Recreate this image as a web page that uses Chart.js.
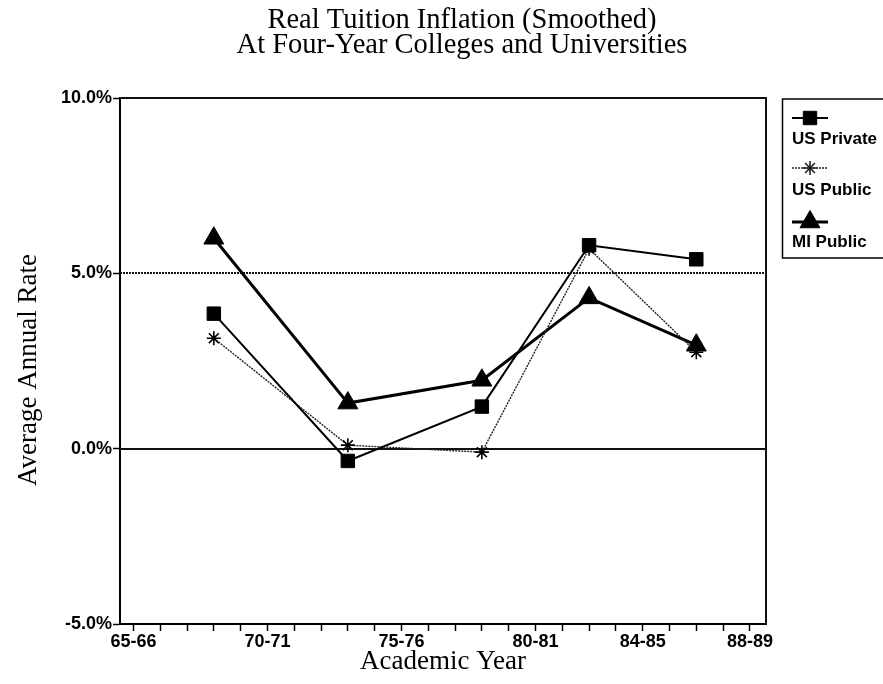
<!DOCTYPE html>
<html>
<head>
<meta charset="utf-8">
<script src="https://cdn.jsdelivr.net/npm/chart.js@4.4.0/dist/chart.umd.min.js"></script>
<style>
  html, body { margin: 0; padding: 0; background: #fff; }
  #wrap { width: 883px; height: 684px; }
</style>
</head>
<body>
<div id="wrap"><canvas id="myChart" width="883" height="684"></canvas></div>
<script>
// start year of each academic year, e.g. 68 = 68-69
const years = [68, 73, 78, 82, 86]
const usPrivate = [3.85, -0.35, 1.2, 5.8, 5.4]
const usPublic = [3.15, 0.1, -0.1, 5.7, 2.75]
const miPublic = [6.0, 1.3, 1.95, 4.3, 2.95]

const seriesNames = ['US Private', 'US Public', 'MI Public']
const yearTicks = [65, 66, 67, 68, 69, 70, 71, 72, 73, 74, 75, 76, 77, 78, 79, 80, 81, 82, 83, 84, 85, 86, 87, 88]
const yearLabels = { 65: '65-66', 70: '70-71', 75: '75-76', 80: '80-81', 84: '84-85', 88: '88-89' }
const rateTicks = [-5, 0, 5, 10]
const titleLines = ['Real Tuition Inflation (Smoothed)', 'At Four-Year Colleges and Universities']
const xTitle = 'Academic Year'
const yTitle = 'Average Annual Rate'

function toPoints(values) {
  return values.map((v, i) => ({ x: years[i], y: v }))
}

const serif = '"Liberation Serif", "Times New Roman", serif'
const sans = '"Liberation Sans", Arial, sans-serif'

// reference lines, frame, titles and the legend box
const decorations = {
  id: 'decorations',
  beforeDatasetsDraw(chart) {
    const { ctx, chartArea: a, scales } = chart
    const y = scales.y
    ctx.save()
    ctx.strokeStyle = '#111'
    ctx.lineWidth = 2
    ctx.setLineDash([2, 1])
    let py = Math.round(y.getPixelForValue(5))
    ctx.beginPath()
    ctx.moveTo(a.left, py)
    ctx.lineTo(a.right, py)
    ctx.stroke()
    ctx.setLineDash([])
    py = Math.round(y.getPixelForValue(0))
    ctx.beginPath()
    ctx.moveTo(a.left, py)
    ctx.lineTo(a.right, py)
    ctx.stroke()
    // top and right edges of the plot frame
    ctx.beginPath()
    ctx.moveTo(a.left, a.top)
    ctx.lineTo(a.right, a.top)
    ctx.lineTo(a.right, a.bottom)
    ctx.stroke()
    ctx.restore()
  },
  afterDraw(chart) {
    const { ctx } = chart
    ctx.save()
    ctx.fillStyle = '#000'
    ctx.textAlign = 'center'
    ctx.textBaseline = 'middle'
    ctx.font = '28.5px ' + serif
    ctx.fillText(titleLines[0], 462, 21)
    ctx.fillText(titleLines[1], 462, 46)

    ctx.font = '27px ' + serif
    ctx.fillText(xTitle, 443, 662)
    ctx.save()
    ctx.translate(29, 370)
    ctx.rotate(-Math.PI / 2)
    ctx.fillText(yTitle, 0, 0)
    ctx.restore()

    // legend
    ctx.strokeStyle = '#000'
    ctx.lineWidth = 1.5
    ctx.strokeRect(782.5, 99, 110, 159)
    const sampleY = [118, 168, 222]
    const textY = [139, 190, 242]
    ctx.font = 'bold 17px ' + sans
    ctx.textAlign = 'left'
    chart.data.datasets.forEach((ds, i) => {
      ctx.strokeStyle = ds.borderColor
      ctx.fillStyle = ds.pointBackgroundColor
      ctx.lineWidth = ds.borderWidth
      ctx.setLineDash(ds.borderDash || [])
      ctx.beginPath()
      ctx.moveTo(792, sampleY[i])
      ctx.lineTo(828, sampleY[i])
      ctx.stroke()
      ctx.setLineDash([])
      ctx.lineWidth = ds.pointBorderWidth
      Chart.helpers.drawPoint(ctx, {
        pointStyle: ds.pointStyle,
        radius: ds.pointRadius,
        rotation: 0,
        borderWidth: ds.pointBorderWidth,
      }, 810, sampleY[i])
      ctx.fillStyle = '#000'
      ctx.fillText(seriesNames[i], 792, textY[i])
    })
    ctx.restore()
  },
}

const ctx = document.getElementById('myChart').getContext('2d')
const myLineChart = new Chart(ctx, {
  type: 'line',
  data: {
    datasets: [
      {
        label: seriesNames[0],
        data: toPoints(usPrivate),
        borderColor: '#000',
        borderWidth: 2,
        pointStyle: 'rect',
        pointRadius: 9.5,
        pointBackgroundColor: '#000',
        pointBorderColor: '#000',
        pointBorderWidth: 1,
      },
      {
        label: seriesNames[1],
        data: toPoints(usPublic),
        borderColor: '#222',
        borderWidth: 1.4,
        borderDash: [2, 1],
        pointStyle: 'star',
        pointRadius: 7,
        pointBackgroundColor: '#000',
        pointBorderColor: '#000',
        pointBorderWidth: 1.6,
      },
      {
        label: seriesNames[2],
        data: toPoints(miPublic),
        borderColor: '#000',
        borderWidth: 3,
        pointStyle: 'triangle',
        pointRadius: 11.5,
        pointBackgroundColor: '#000',
        pointBorderColor: '#000',
        pointBorderWidth: 1,
      },
    ],
  },
  options: {
    responsive: false,
    animation: false,
    devicePixelRatio: 1,
    layout: { padding: { top: 98, right: 117, left: 0, bottom: 0 } },
    plugins: {
      legend: { display: false },
      tooltip: { enabled: false },
    },
    scales: {
      x: {
        type: 'linear',
        min: 64.5,
        max: 88.6,
        afterFit(scale) { scale.height = 60 },
        afterBuildTicks(scale) { scale.ticks = yearTicks.map(v => ({ value: v })) },
        grid: { drawOnChartArea: false, drawTicks: true, tickLength: 7, tickColor: '#000', tickWidth: 1.5 },
        border: { color: '#000', width: 2 },
        ticks: {
          autoSkip: false,
          maxRotation: 0,
          padding: 0,
          color: '#000',
          font: { family: sans, size: 18, weight: 'bold' },
          callback: v => yearLabels[v] || '',
        },
      },
      y: {
        min: -5,
        max: 10,
        afterFit(scale) { scale.width = 120 },
        afterBuildTicks(scale) { scale.ticks = rateTicks.map(v => ({ value: v })) },
        grid: { drawOnChartArea: false, drawTicks: true, tickLength: 7, tickColor: '#000', tickWidth: 1.5 },
        border: { color: '#000', width: 2 },
        ticks: {
          padding: 1,
          color: '#000',
          font: { family: sans, size: 18, weight: 'bold' },
          callback: v => v.toFixed(1) + '%',
        },
      },
    },
  },
  plugins: [decorations],
})
</script>
</body>
</html>
